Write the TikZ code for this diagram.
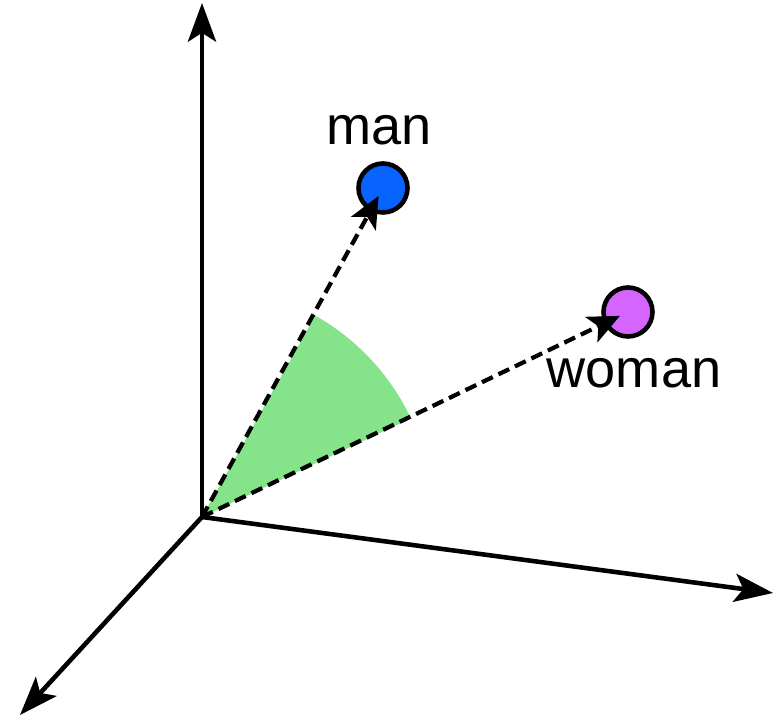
\documentclass[tikz,border=0pt]{standalone}
\usepackage{fontspec}
\setmainfont{Liberation Sans}
\usetikzlibrary{arrows.meta}
\definecolor{manblue}{RGB}{8,100,255}
\definecolor{womanpurple}{RGB}{214,100,255}
\definecolor{anglegreen}{RGB}{133,227,137}

\begin{document}
\begin{tikzpicture}[
    axis/.style={line width=1.3pt, -{Stealth[length=11pt, width=8pt, inset=2.5pt]}},
    vec/.style={line width=1.2pt, dash pattern=on 3.4pt off 1.8pt, -{Stealth[length=9pt, width=8pt, inset=2.2pt]}, shorten >=0.09cm},
    word/.style={font=\fontsize{15.4}{18}\selectfont, anchor=base, inner sep=0pt},
    point/.style={draw, circle, line width=1.3pt, minimum size=0.49cm, inner sep=0pt}
]
    \useasboundingbox (0,0) rectangle (7.74,7.17);

    % Origin and axis ends
    \coordinate (origin) at (2.02,2.00);
    \coordinate (y_end) at (2.02,7.14);
    \coordinate (x_end) at (7.73,1.24);
    \coordinate (z_end) at (0.20,0.02);

    % Angle between the two vectors
    \fill[anglegreen] (origin) -- ++(25.3:2.31) arc (25.3:60.6:2.31) -- cycle;

    % Axes
    \draw[axis] (origin) -- (y_end);
    \draw[axis] (origin) -- (x_end);
    \draw[axis] (origin) -- (z_end);

    % Word points
    \node[point, fill=manblue] (man_point) at (3.83,5.29) {};
    \node[point, fill=womanpurple] (woman_point) at (6.28,4.05) {};
    \node[word] (man_label) at (3.79,5.72) {man};
    \node[word] (woman_label) at (6.34,3.29) {woman};

    % Vectors
    \draw[vec] (origin) -- (man_point.center);
    \draw[vec] (origin) -- (woman_point.center);
\end{tikzpicture}
\end{document}
